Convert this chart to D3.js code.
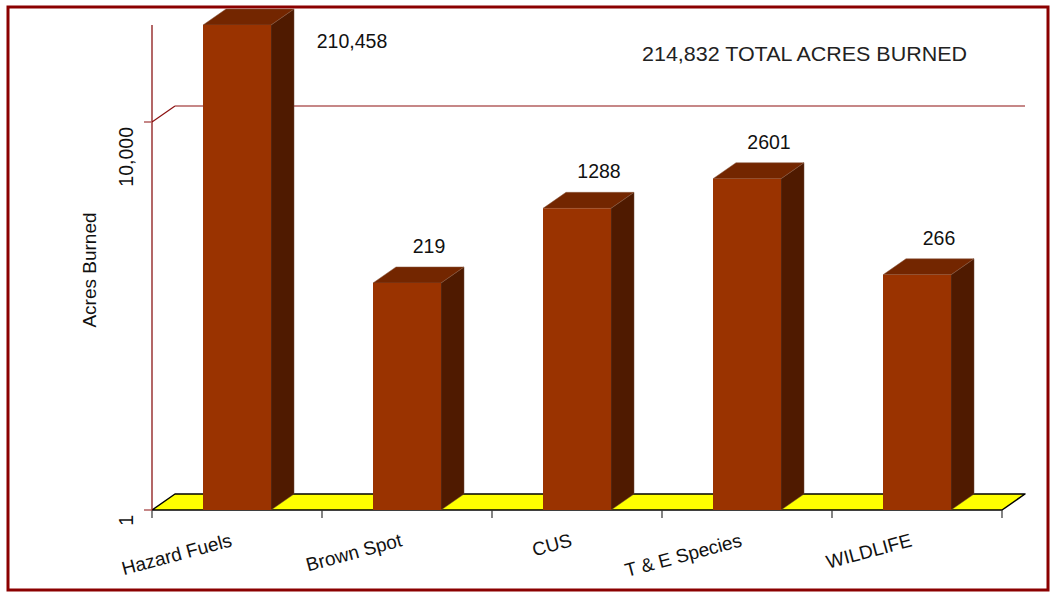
<!DOCTYPE html>
<html>
<head>
<meta charset="utf-8">
<script src="https://cdn.jsdelivr.net/npm/d3@7/dist/d3.min.js"></script>
<style>
  html, body { margin: 0; padding: 0; background: #ffffff; }
  svg { display: block; font-family: "Liberation Sans", Arial, sans-serif; }
</style>
</head>
<body>
<svg id="chart" width="1050" height="592"></svg>
<script>
// ---- data ----
const categories = ["Hazard Fuels", "Brown Spot", "CUS", "T & E Species", "WILDLIFE"];
const acres = [210458, 219, 1288, 2601, 266];
const yTickValues = [1, 10000];
const yDomain = [1, 100000];
const yTitle = "Acres Burned";
const totalSuffix = "TOTAL ACRES BURNED";

(function () {
// ---- layout ----
const svg = d3.select("#chart");
const pLeft = 152, pRight = 1002, pBottom = 510, pTop = 25;
const dx = 23, dy = 16;

const x = d3.scaleBand().domain(categories).range([pLeft, pRight]).paddingInner(0.6).paddingOuter(0.3);
const y = d3.scaleLog().domain(yDomain).range([pBottom, pTop]);
const fmt = d3.format(",");

// border
svg.append("rect").attr("x", 8).attr("y", 7).attr("width", 1040).attr("height", 583)
  .attr("fill", "none").attr("stroke", "#8B0000").attr("stroke-width", 3);

// gridlines (side wall diagonal + back wall horizontal)
yTickValues.filter(v => v !== yDomain[0]).forEach(v => {
  const yy = y(v);
  svg.append("line").attr("x1", pLeft).attr("y1", yy).attr("x2", pLeft + dx).attr("y2", yy - dy)
    .attr("stroke", "#8B1010").attr("stroke-width", 1.2);
  svg.append("line").attr("x1", pLeft + dx).attr("y1", yy - dy).attr("x2", pRight + dx).attr("y2", yy - dy)
    .attr("stroke", "#B35F5F").attr("stroke-width", 1.5);
});

// floor
svg.append("polygon")
  .attr("points", [[pLeft, pBottom], [pRight, pBottom], [pRight + dx, pBottom - dy], [pLeft + dx, pBottom - dy]].map(p => p.join(",")).join(" "))
  .attr("fill", "#FFFF00").attr("stroke", "#000").attr("stroke-width", 1.5).attr("stroke-linejoin", "round");

// x-axis ticks at category boundaries
const step = x.step();
d3.range(categories.length + 1).forEach(i => {
  const xx = pLeft + i * step;
  svg.append("line").attr("x1", xx).attr("y1", pBottom).attr("x2", xx).attr("y2", pBottom + 8)
    .attr("stroke", "#333").attr("stroke-width", 1.2);
});

// y axis line + ticks
svg.append("line").attr("x1", pLeft).attr("y1", pTop).attr("x2", pLeft).attr("y2", pBottom)
  .attr("stroke", "#800000").attr("stroke-width", 1.2);
yTickValues.forEach(v => {
  const yy = y(v);
  svg.append("line").attr("x1", pLeft - 8).attr("y1", yy).attr("x2", pLeft).attr("y2", yy)
    .attr("stroke", "#B35F5F").attr("stroke-width", 1.5);
  svg.append("text")
    .attr("transform", `translate(${pLeft - 19},${yy + 5}) rotate(-90)`)
    .attr("text-anchor", "end").attr("font-size", 19.5).attr("fill", "#111")
    .text(fmt(v));
});

// y title
svg.append("text")
  .attr("transform", `translate(96,270) rotate(-90)`)
  .attr("text-anchor", "middle").attr("font-size", 19).attr("fill", "#111")
  .text(yTitle);

// bars
const g = svg.append("g");
categories.forEach((c, i) => {
  const v = acres[i];
  const x0 = x(c), x1 = x0 + x.bandwidth();
  const yt = y(Math.min(v, yDomain[1]));
  // side face
  g.append("polygon")
    .attr("points", [[x1, yt], [x1 + dx, yt - dy], [x1 + dx, pBottom - dy], [x1, pBottom]].map(p => p.join(",")).join(" "))
    .attr("fill", "#4F1A00").attr("stroke", "#6b4a3a").attr("stroke-width", 0.5);
  // top face
  g.append("polygon")
    .attr("points", [[x0, yt], [x1, yt], [x1 + dx, yt - dy], [x0 + dx, yt - dy]].map(p => p.join(",")).join(" "))
    .attr("fill", "#732600").attr("stroke", "#8a5a40").attr("stroke-width", 0.5);
  // front face
  g.append("rect").attr("x", x0).attr("y", yt).attr("width", x1 - x0).attr("height", pBottom - yt)
    .attr("fill", "#9A3300");
  // value label
  const clipped = v > yDomain[1];
  const cx = x0 + x.bandwidth() / 2;
  svg.append("text")
    .attr("x", clipped ? cx + 115 : cx + 22)
    .attr("y", clipped ? 48 : yt - 30)
    .attr("text-anchor", "middle").attr("font-size", 19.5).attr("fill", "#111")
    .text(clipped ? fmt(v) : String(v));
  // category label
  svg.append("text")
    .attr("transform", `translate(${cx - 4},546) rotate(-15)`)
    .attr("text-anchor", "end").attr("font-size", 19).attr("fill", "#111")
    .text(c);
});

// total
svg.append("text").attr("x", 642).attr("y", 61).attr("font-size", 20).attr("fill", "#222")
  .attr("textLength", 325).attr("lengthAdjust", "spacingAndGlyphs")
  .text(fmt(d3.sum(acres)) + " " + totalSuffix);
})();
</script>
</body>
</html>
